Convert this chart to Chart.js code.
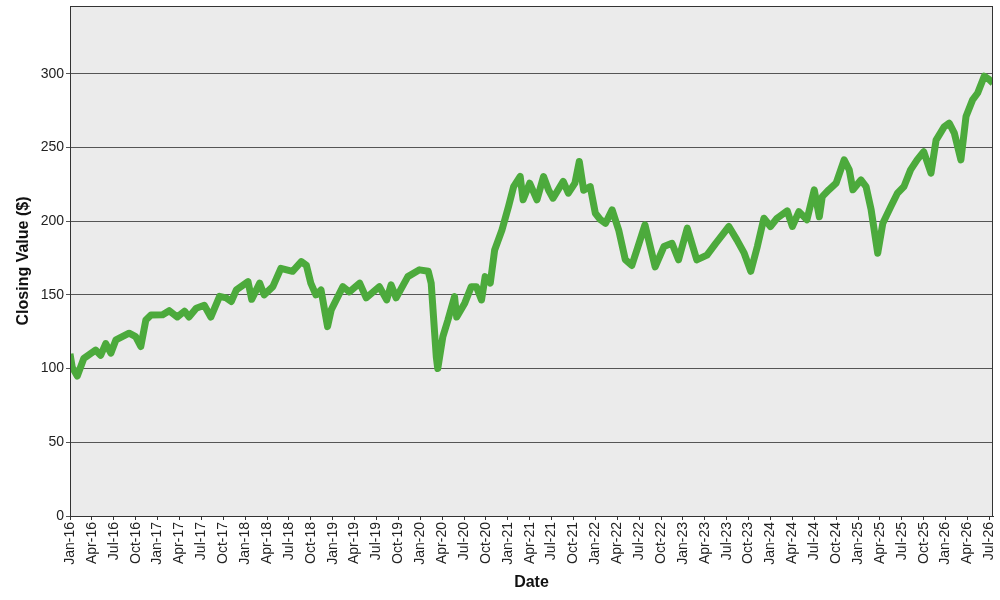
<!DOCTYPE html>
<html>
<head>
<meta charset="utf-8">
<script src="https://cdn.jsdelivr.net/npm/chart.js@4"></script>
<style>
  html, body { margin: 0; padding: 0; background: #fff; }
  #wrap { width: 1000px; height: 600px; }
</style>
</head>
<body>
<div id="wrap"><canvas id="closingChart" width="1000" height="600"></canvas></div>
<script>
// months since Jan 2016 (fractional) and closing values
const monthPos = [
  0, 0.3, 1.0, 1.9, 3.5, 4.2, 4.9, 5.6, 6.3, 8.1, 9.0, 9.7, 10.4, 11.1,
  12.7, 13.6, 14.7, 15.7, 16.3, 17.3, 18.4, 19.3, 20.5, 21.4, 22.1, 22.8,
  24.4, 24.9, 26.0, 26.6, 27.8, 28.9, 30.5, 31.7, 32.4, 33.0, 33.7, 34.4, 35.3, 35.8,
  37.4, 38.3, 39.7, 40.6, 42.4, 43.4, 44.0, 44.7, 46.3, 47.9,
  49.1, 49.5, 50.2, 50.4, 51.1, 51.8, 52.7, 53.0, 54.1, 55.0, 55.7, 56.4, 56.9, 57.6, 58.2, 59.2,
  60.1, 60.8, 61.7, 62.1, 63.0, 64.0, 64.9, 65.6, 66.2, 67.6, 68.3, 69.2, 69.8, 70.4, 71.3,
  72.0, 72.7, 73.4, 74.3, 75.2, 76.1, 77.0, 77.7, 78.8, 80.2, 81.4, 82.5, 83.4,
  84.6, 85.9, 87.3, 88.5, 90.3, 91.4, 92.4, 93.3, 94.2, 95.1,
  96.0, 96.9, 98.3, 99.0, 99.9, 101.0, 102.0, 102.7, 103.1, 104.0, 105.0, 106.1, 106.8, 107.3,
  108.4, 109.1, 109.8, 110.7, 111.4, 112.5, 113.4, 114.3, 115.2, 116.1, 117.0, 118.0, 118.7, 119.8,
  120.5, 121.2, 122.1, 122.8, 123.7, 124.4, 125.3, 126.0, 126.5
];
const closingValues = [
  110, 101, 95, 107, 112.6, 109, 117, 110.5, 119.5, 124, 121.7, 115, 133, 136.4,
  136.5, 139.3, 135, 139, 135, 141, 143, 135, 149, 148, 145.5, 153.4,
  159, 147, 158, 150, 155.6, 168, 166, 172.6, 170, 158, 150, 153.4, 128.5, 139.8,
  155.6, 152, 158, 148, 155.6, 146.6, 156.8, 148, 162.4, 167,
  166, 158, 108, 100, 121.7, 133, 148.8, 135, 144.4, 155.6, 155.6, 146.6, 162.4, 158, 180.5, 194,
  210, 223.5, 230.3, 214.5, 225.8, 214.5, 230.3, 221, 215.6, 227, 219, 225.8, 240.5, 221, 223.5,
  205.4, 201, 198.6, 207.7, 194, 174, 170, 180.5, 197.5, 169, 182.8, 185, 173.8,
  195.3, 173.8, 177, 185, 196.4, 187.3, 178.3, 166, 182.8, 202,
  196.4, 202, 207, 196.4, 206.5, 201, 221.3, 203, 216.7, 221.3, 225.8, 241.6, 234.8, 221.3,
  228, 223.5, 207.7, 178.3, 198.6, 210, 219, 223.5, 234.8, 241.6, 247.2, 232.6, 255, 264,
  266.5, 259.7, 241.6, 271, 282.3, 287, 298.4, 296, 293.7
];
const tickLabels = [
  'Jan-16', 'Apr-16', 'Jul-16', 'Oct-16', 'Jan-17', 'Apr-17', 'Jul-17', 'Oct-17',
  'Jan-18', 'Apr-18', 'Jul-18', 'Oct-18', 'Jan-19', 'Apr-19', 'Jul-19', 'Oct-19',
  'Jan-20', 'Apr-20', 'Jul-20', 'Oct-20', 'Jan-21', 'Apr-21', 'Jul-21', 'Oct-21',
  'Jan-22', 'Apr-22', 'Jul-22', 'Oct-22', 'Jan-23', 'Apr-23', 'Jul-23', 'Oct-23',
  'Jan-24', 'Apr-24', 'Jul-24', 'Oct-24', 'Jan-25', 'Apr-25', 'Jul-25', 'Oct-25',
  'Jan-26', 'Apr-26', 'Jul-26'
];

// gray plot area plus frame around it
const plotBackground = {
  id: 'plotBackground',
  beforeDraw(chart) {
    const { ctx, chartArea: a } = chart;
    ctx.save();
    ctx.fillStyle = '#ebebeb';
    ctx.fillRect(a.left, a.top, a.right - a.left, a.bottom - a.top);
    ctx.restore();
  },
  afterDraw(chart) {
    const { ctx, chartArea: a } = chart;
    ctx.save();
    ctx.strokeStyle = '#333';
    ctx.lineWidth = 1;
    ctx.strokeRect(a.left + 0.5, a.top + 0.5, a.right - a.left - 1, a.bottom - a.top);
    ctx.restore();
  }
};

const ctx = document.getElementById('closingChart').getContext('2d');
new Chart(ctx, {
  type: 'line',
  data: {
    datasets: [{
      label: 'Closing Value',
      data: monthPos.map((m, i) => ({ x: m, y: closingValues[i] })),
      borderColor: '#4caa3c',
      borderWidth: 7,
      pointRadius: 0,
      tension: 0,
      borderJoinStyle: 'round',
      borderCapStyle: 'butt'
    }]
  },
  options: {
    responsive: false,
    animation: false,
    layout: { padding: { left: 10, right: 7, top: 6, bottom: 4 } },
    plugins: { legend: { display: false }, tooltip: { enabled: false } },
    scales: {
      x: {
        type: 'linear',
        min: 0,
        max: 126.5,
        afterFit: s => { s.height = 80; s.paddingLeft = 0; s.paddingRight = 0; },
        ticks: {
          stepSize: 3,
          includeBounds: false,
          autoSkip: false,
          maxRotation: 90,
          minRotation: 90,
          padding: 2,
          color: '#222',
          font: { family: 'Liberation Sans', size: 14 },
          callback: v => tickLabels[Math.round(v / 3)]
        },
        grid: { drawOnChartArea: false, drawTicks: true, tickLength: 4, color: '#333' },
        border: { color: '#333' },
        title: {
          display: true,
          text: 'Date',
          color: '#111',
          font: { family: 'Liberation Sans', size: 16, weight: 'bold' },
          padding: { top: 0, bottom: 4 }
        }
      },
      y: {
        min: 0,
        max: 346,
        afterFit: s => { s.width = 60; s.paddingTop = 0; s.paddingBottom = 0; },
        ticks: {
          stepSize: 50,
          includeBounds: false,
          padding: 2,
          color: '#222',
          font: { family: 'Liberation Sans', size: 14 }
        },
        grid: { color: '#555', tickLength: 4, lineWidth: 1 },
        border: { color: '#333' },
        title: {
          display: true,
          text: 'Closing Value ($)',
          color: '#111',
          font: { family: 'Liberation Sans', size: 16, weight: 'bold' },
          padding: { top: 4, bottom: 4 }
        }
      }
    }
  },
  plugins: [plotBackground]
});
</script>
</body>
</html>
